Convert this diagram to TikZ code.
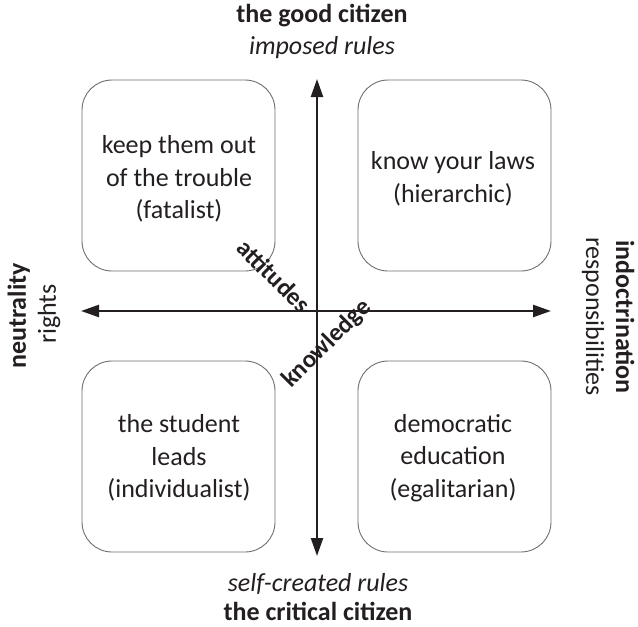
\documentclass[tikz,border=0pt]{standalone}
\usepackage{fontspec}
\setmainfont{Carlito}
\usetikzlibrary{arrows.meta}
\definecolor{ink}{HTML}{231F20}
\definecolor{frame}{HTML}{6D6E71}
\begin{document}
\begin{tikzpicture}[x=1pt,y=-1pt,
  quad/.style={draw=frame,line width=0.9pt,rounded corners=30pt},
  qtext/.style={align=center,font=\fontsize{26}{32.5}\selectfont,text=ink},
  axis/.style={draw=ink,line width=2.4pt,{Triangle[length=18pt,width=12pt]}-{Triangle[length=18pt,width=12pt]}},
  title/.style={anchor=base,font=\fontsize{26}{30}\selectfont\bfseries,text=ink,inner sep=1pt},
  sub/.style={anchor=base,font=\fontsize{26}{30}\selectfont,text=ink,inner sep=1pt},
  subit/.style={anchor=base,font=\fontsize{26}{30}\selectfont\itshape,text=ink,inner sep=1pt},
  diag/.style={font=\fontsize{25}{30}\selectfont\bfseries,text=ink,inner sep=0pt}]
\useasboundingbox (0,0) rectangle (638,627);
% quadrant boxes
\draw[quad] (82,80) rectangle (275,271);
\draw[quad] (358,80) rectangle (551,271);
\draw[quad] (82,361) rectangle (275,552);
\draw[quad] (358,361) rectangle (551,552);
\node[qtext] (tl) at (179,179) {keep them out\\of the trouble\\(fatalist)};
\node[qtext] (tr) at (453,179) {know your laws\\(hierarchic)};
\node[qtext] (bl) at (179,458) {the student\\leads\\(individualist)};
\node[qtext] (br) at (453,458) {democratic\\education\\(egalitarian)};
% axes
\coordinate (n) at (317,79);
\coordinate (s) at (317,556);
\coordinate (w) at (81,311);
\coordinate (e) at (551,311);
\draw[axis] (s) -- (n);
\draw[axis] (w) -- (e);
% axis end labels
\node[title] (gc) at (322,22) {the good citizen};
\node[subit] (ir) at (322,54) {imposed rules};
\node[subit] (sr) at (318,591) {self-created rules};
\node[title] (cc) at (318,620) {the critical citizen};
\node[title,rotate=90] (ne) at (26,316) {neutrality};
\node[sub,rotate=90] (ri) at (56,314) {rights};
\node[title,rotate=-90] (in) at (616,317) {indoctrination};
\node[sub,rotate=-90] (re) at (586,317) {responsibilities};
% diagonal labels
\node[diag,rotate=-45] (at) at (274,276) {attitudes};
\node[diag,rotate=45] (kn) at (327,344) {knowledge};
\end{tikzpicture}
\end{document}
